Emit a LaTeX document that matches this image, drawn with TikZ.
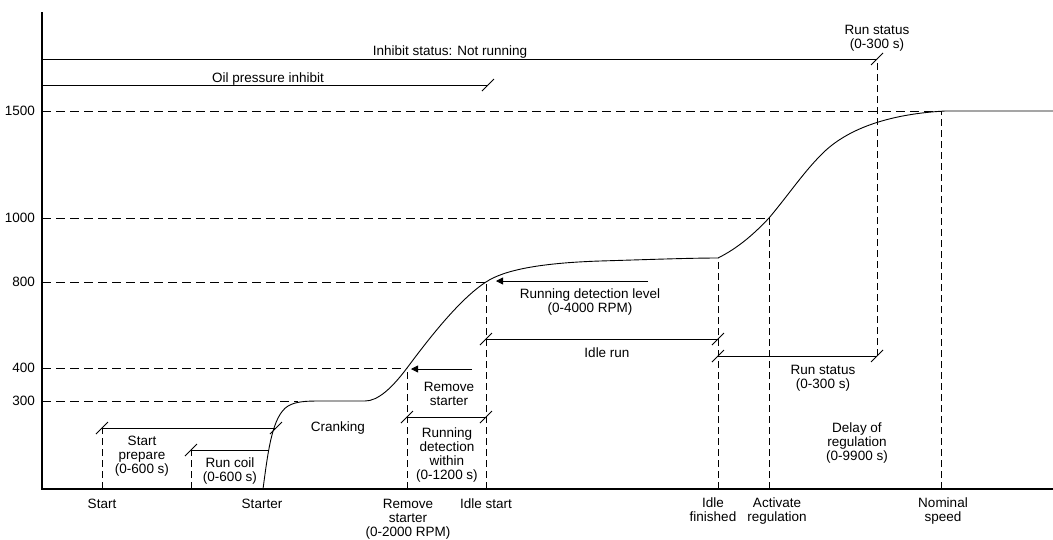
\documentclass[tikz,border=0pt]{standalone}
\usepackage{fontspec}
\setmainfont{Liberation Sans}
\usetikzlibrary{arrows.meta}
\begin{document}
\begin{tikzpicture}[x=1pt,y=-1pt,
  every node/.style={font=\fontsize{13.5}{14}\selectfont, inner sep=0pt, align=center, anchor=base},
  axis/.style={line width=1.6pt},
  guide/.style={line width=0.7pt, dash pattern=on 9pt off 5pt},
  vguide/.style={line width=0.7pt, dash pattern=on 7pt off 4pt},
  spanline/.style={line width=0.8pt},
  speedcurve/.style={line width=0.9pt},
  pointer/.style={line width=0.8pt, -{Triangle[length=7pt,width=7pt]}},
  endtick/.pic={\draw[line width=0.8pt] (-6,6) -- (6,-6);}
]
\useasboundingbox (0,0) rectangle (1053,539);

% axes
\coordinate (O) at (42,489);
\coordinate (ytop) at (42,12);
\coordinate (xend) at (1053,489);
\draw[axis] (ytop) -- (O) -- (xend);

% event positions on the time axis
\coordinate (xs)   at (102,489);
\coordinate (xc)   at (191,489);
\coordinate (xst)  at (263,489);
\coordinate (xrs)  at (407,489);
\coordinate (xis)  at (486,489);
\coordinate (xif)  at (718,489);
\coordinate (xar)  at (769,489);
\coordinate (xrun) at (877,489);
\coordinate (xns)  at (941,489);

% speed levels
\coordinate (y300)  at (42,401);
\coordinate (y400)  at (42,368);
\coordinate (y800)  at (42,282);
\coordinate (y1000) at (42,218);
\coordinate (y1500) at (42,111);
\coordinate (y300e) at (298,401);

% multi-line labels are placed by the baseline of their last line
\node[anchor=base east] (l1500) at (35,115.5) {1500};
\node[anchor=base east] (l1000) at (35,222.5) {1000};
\node[anchor=base east] (l800)  at (35,286.5) {800};
\node[anchor=base east] (l400)  at (35,372.5) {400};
\node[anchor=base east] (l300)  at (35,405.5) {300};

% level guides
\draw[guide] (y300) -- (y300e);
\draw[guide] (y400) -- (y400 -| xrs);
\draw[guide] (y800) -- (y800 -| xis);
\draw[guide] (y1000) -- (y1000 -| xar);
\draw[guide] (y1500) -- (y1500 -| xns);

% status bars at the top
\coordinate (inhS) at (42,59);
\coordinate (inhE) at (877,59);
\coordinate (oilS) at (42,85);
\coordinate (oilE) at (488,85);
\draw[spanline] (inhS) -- (inhE);
\pic at (inhE) {endtick};
\draw[spanline] (oilS) -- (oilE);
\pic at (oilE) {endtick};
\node (tinh) at (450,55) {Inhibit status: Not running};
\node (toil) at (268,82) {Oil pressure inhibit};
\node (trunT) at (877,48) {Run status\\(0-300 s)};

% speed curve
\draw[speedcurve] (xst) .. controls (268,452) and (272,416) .. (288,406)
  .. controls (296,401.5) and (305,401) .. (320,401) -- (365,401)
  .. controls (378,401) and (392,388) .. (407,368)
  .. controls (425,344) and (458,300) .. (486,282)
  .. controls (504,270) and (540,263) .. (600,261)
  .. controls (650,259.5) and (690,258) .. (718,258)
  .. controls (738,248) and (754,234) .. (769,218)
  .. controls (790,193) and (805,170) .. (825,151)
  .. controls (850,128) and (890,114) .. (945,111) -- (1053,111);

% start prepare
\coordinate (spR) at (276,428);
\draw[vguide] (xs) -- (xs |- spR);
\draw[spanline] (xs |- spR) -- (spR);
\pic at (xs |- spR) {endtick};
\pic at (spR) {endtick};
\node (tsp) at (142,473) {Start\\prepare\\(0-600 s)};

% run coil
\coordinate (rcR) at (269,450);
\draw[vguide] (xc) -- (xc |- rcR);
\draw[spanline] (xc |- rcR) -- (rcR);
\pic at (xc |- rcR) {endtick};
\node (trc) at (230,481) {Run coil\\(0-600 s)};

\node (tcrank) at (338,431) {Cranking};

% remove starter
\coordinate (rsA) at (472,369);
\coordinate (rsB) at (411,369);
\draw[pointer] (rsA) -- (rsB);
\draw[vguide] (xrs) -- (xrs |- y400);
\node (trs) at (449,405) {Remove\\starter};

% running detection within
\coordinate (rdL) at (407,417);
\coordinate (rdR) at (486,417);
\draw[spanline] (rdL) -- (rdR);
\pic at (rdL) {endtick};
\pic at (rdR) {endtick};
\node (trd) at (447,479) {Running\\detection\\within\\(0-1200 s)};

% idle start
\draw[vguide] (xis) -- (xis |- y800);
\coordinate (rlA) at (648,281);
\coordinate (rlB) at (496,281);
\draw[pointer] (rlA) -- (rlB);
\node (trl) at (590,312) {Running detection level\\(0-4000 RPM)};

% idle run
\coordinate (irL) at (486,339);
\coordinate (irR) at (718,339);
\draw[spanline] (irL) -- (irR);
\pic at (irL) {endtick};
\pic at (irR) {endtick};
\node (tir) at (607,357) {Idle run};

% idle finished / run status
\coordinate (ifT) at (718,258);
\draw[vguide] (xif) -- (ifT);
\coordinate (rsL) at (718,356);
\coordinate (rsR) at (877,356);
\draw[spanline] (rsL) -- (rsR);
\pic at (rsL) {endtick};
\pic at (rsR) {endtick};
\draw[vguide] (rsR) -- (inhE);
\node (trunB) at (823,388) {Run status\\(0-300 s)};

% activate regulation and nominal speed
\draw[vguide] (xar) -- (xar |- y1000);
\draw[vguide] (xns) -- (xns |- y1500);
\node (tdel) at (857,460) {Delay of\\regulation\\(0-9900 s)};

% event labels
\node (eStart) at (102,508) {Start};
\node (eStarter) at (262,508) {Starter};
\node (eRemove) at (408,536) {Remove\\starter\\(0-2000 RPM)};
\node (eIdle) at (486,508) {Idle start};
\node (eFin) at (713,521) {Idle\\finished};
\node (eAct) at (777,521) {Activate\\regulation};
\node (eNom) at (943,521) {Nominal\\speed};
\end{tikzpicture}
\end{document}
